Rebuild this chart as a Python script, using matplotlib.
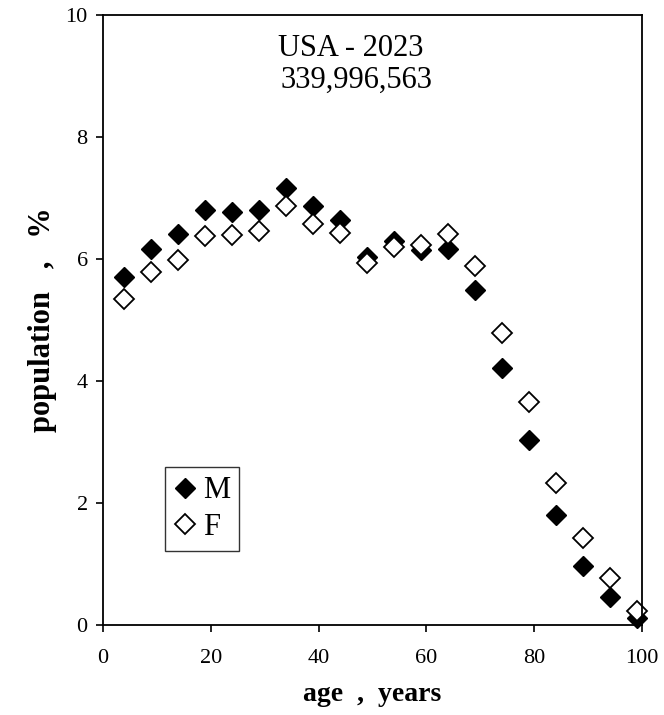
import matplotlib
matplotlib.use("Agg")
import matplotlib.pyplot as plt

# age group centres (years) and share of population (%)
age = [4, 9, 14, 19, 24, 29, 34, 39, 44, 49, 54, 59, 64, 69, 74, 79, 84, 89, 94, 99]
male = [5.71, 6.16, 6.41, 6.80, 6.77, 6.80, 7.17, 6.87, 6.64, 6.04,
        6.30, 6.15, 6.17, 5.49, 4.22, 3.04, 1.80, 0.97, 0.45, 0.11]
female = [5.34, 5.78, 5.99, 6.38, 6.39, 6.46, 6.87, 6.58, 6.42, 5.93,
          6.20, 6.23, 6.41, 5.89, 4.78, 3.66, 2.32, 1.43, 0.77, 0.22]

title = "USA - 2023"
total = "339,996,563"

plt.rcParams["font.family"] = ["Liberation Serif", "DejaVu Serif"]

fig = plt.figure(figsize=(6.64, 7.15), dpi=100)
ax = fig.add_axes([0.155, 0.126, 0.812, 0.853])

ax.plot(age, male, linestyle="none", marker="D", markersize=10,
        color="black", label="M", clip_on=False)
ax.plot(age, female, linestyle="none", marker="D", markersize=10,
        markerfacecolor="white", markeredgecolor="black", markeredgewidth=1.3,
        label="F", clip_on=False)

ax.set_xlim(0, 100)
ax.set_ylim(0, 10)
ax.set_xticks(range(0, 101, 20))
ax.set_yticks(range(0, 11, 2))
ax.tick_params(direction="out", length=5, width=1.2, labelsize=16)
ax.tick_params(axis="x", pad=12.5)
ax.tick_params(axis="y", pad=6)
for s in ax.spines.values():
    s.set_linewidth(1.3)

ax.set_xlabel("age  ,  years", fontsize=20, fontweight="bold", labelpad=10)
ax.set_ylabel("population   ,   %", fontsize=22, fontweight="bold", labelpad=6)

ax.text(45.9, 9.32, title, fontsize=22, ha="center", va="baseline")
ax.text(47.1, 8.80, total, fontsize=22, ha="center", va="baseline")

leg = ax.legend(loc="lower left", bbox_to_anchor=(0.115, 0.121), fontsize=22,
                frameon=True, fancybox=False, edgecolor="black",
                handlelength=0.74, handletextpad=0.2, borderpad=0.3,
                labelspacing=0.25, borderaxespad=0)
leg.get_frame().set_linewidth(1.0)

fig.savefig("out.png", dpi=100)
